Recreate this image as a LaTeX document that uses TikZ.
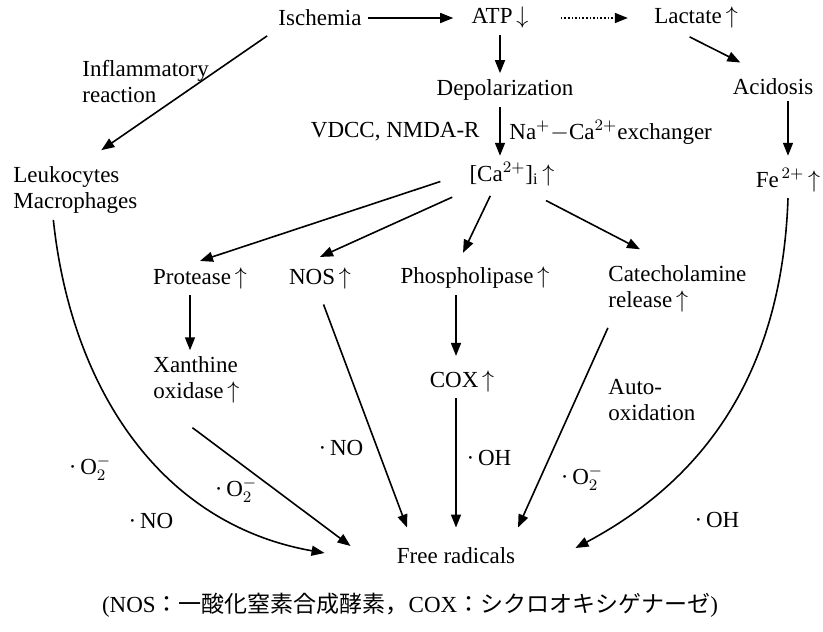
\documentclass[tikz,border=0pt]{standalone}
\usepackage{amsmath}
\usepackage{amssymb}
\usepackage{fontspec}
\setmainfont{Liberation Serif}
\newfontfamily\cjk{Noto Sans CJK JP}
\usepackage{tikz}
\usetikzlibrary{positioning,arrows.meta}
\newcommand{\incr}{\,$\uparrow$}
\newcommand{\decr}{\,$\downarrow$}

\begin{document}
\begin{tikzpicture}[x=0.5pt,y=0.5pt,
    every node/.style={font=\fontsize{11.5}{13}\selectfont,inner sep=3pt},
    box/.style={align=left,anchor=west},
    arr/.style={-{Triangle[length=6.5pt,width=5pt]},line width=0.8pt}]
  \useasboundingbox (0,0) rectangle (823,-631);
  \node (isch) at (320,-18) {Ischemia};
  \node (atp) at (500,-18) {ATP\decr};
  \node (lac) at (696,-18) {Lactate\incr};
  \node (acid) at (773,-87) {Acidosis};
  \node (fe) at (788,-180) {Fe$^{\,2+}$\incr};
  \node (depol) at (505,-90) {Depolarization};
  \node[anchor=east] (vdcc) at (486,-132) {VDCC, NMDA-R};
  \node[anchor=west] (nacx) at (503,-132) {Na$^{+}-$Ca$^{2+}$exchanger};
  \node (ca) at (512,-174) {[Ca$^{2+}$]$_{\mathrm{i}}$\incr};
  \node[box] (infl) at (76,-82) {Inflammatory\\reaction};
  \node[box] (leuko) at (7,-190) {Leukocytes\\Macrophages};
  \node (prot) at (200,-278) {Protease\incr};
  \node (nos) at (320,-278) {NOS\incr};
  \node (phos) at (475,-278) {Phospholipase\incr};
  \node[box] (cate) at (602,-289) {Catecholamine\\release\incr};
  \node[box] (xan) at (147,-380) {Xanthine\\oxidase\incr};
  \node (cox) at (462,-381) {COX\incr};
  \node[box] (auto) at (602,-400) {Auto-\\oxidation};
  \node[inner ysep=10pt] (fr) at (456,-556) {Free radicals};
  \node (o2a) at (90,-468) {·\,O$_2^-$};
  \node (noa) at (151,-521) {·\,NO};
  \node (o2b) at (236,-490) {·\,O$_2^-$};
  \node (nob) at (341,-448) {·\,NO};
  \node (oha) at (489,-458) {·\,OH};
  \node (o2c) at (582,-478) {·\,O$_2^-$};
  \node (ohb) at (717,-520) {·\,OH};
  \node (note) at (410,-605) {(NOS{\cjk ：一酸化窒素合成酵素，}COX{\cjk ：シクロオキシゲナーゼ})};

  \draw[arr,shorten >=6pt] (isch) -- (atp);
  \draw[arr,densely dotted,shorten <=13pt,shorten >=10pt] (atp) -- (lac);
  \draw[arr,shorten <=2pt] ([xshift=-5pt]lac.south) -- ([xshift=7pt,yshift=5pt]acid.north west);
  \draw[arr,shorten >=3pt] (acid.south -| fe) -- (fe.north);
  \draw[arr] (atp.south) -- (atp.south |- depol.north);
  \draw[arr] (depol.south -| atp.south) -- (ca.north -| atp.south);
  \draw[arr,shorten <=3pt] (isch.south west) -- ([xshift=13pt,yshift=5pt]leuko.north);
  \draw[arr,shorten <=12pt] (ca.west) -- (prot.north);
  \draw[arr,shorten <=6pt] (ca.south west) -- ([yshift=2pt]nos.north);
  \draw[arr,shorten <=2pt] ([xshift=-10pt]ca.south) -- ([xshift=-6pt,yshift=4pt]phos.north);
  \draw[arr,shorten <=9pt] ([xshift=9pt]ca.south) -- ([xshift=19pt,yshift=5pt]cate.north west);
  \draw[arr] ([xshift=-5pt]prot.south) -- ([xshift=-5pt]prot.south |- xan.north);
  \draw[arr,shorten >=4pt] (phos.south -| fr.north) -- (cox.north -| fr.north);
  \draw[arr] (cox.south -| fr.north) -- (fr.north);
  \draw[arr,shorten <=5pt] (nos.south) -- ([xshift=-24.5pt]fr.north);
  \draw[arr,shorten <=5pt] ([xshift=5pt]cate.south west) -- ([xshift=31pt]fr.north);
  \draw[arr] ([xshift=-2pt,yshift=-9pt]xan.south) -- ([xshift=-20pt,yshift=5pt]fr.west);
  \draw[arr] ([xshift=-11pt]leuko.south) to[out=-84,in=170] ([xshift=-33pt,yshift=1.5pt]fr.west);
  \draw[arr] (fe.south) to[out=-92,in=28] ([xshift=27pt,yshift=4pt]fr.east);
\end{tikzpicture}
\end{document}
